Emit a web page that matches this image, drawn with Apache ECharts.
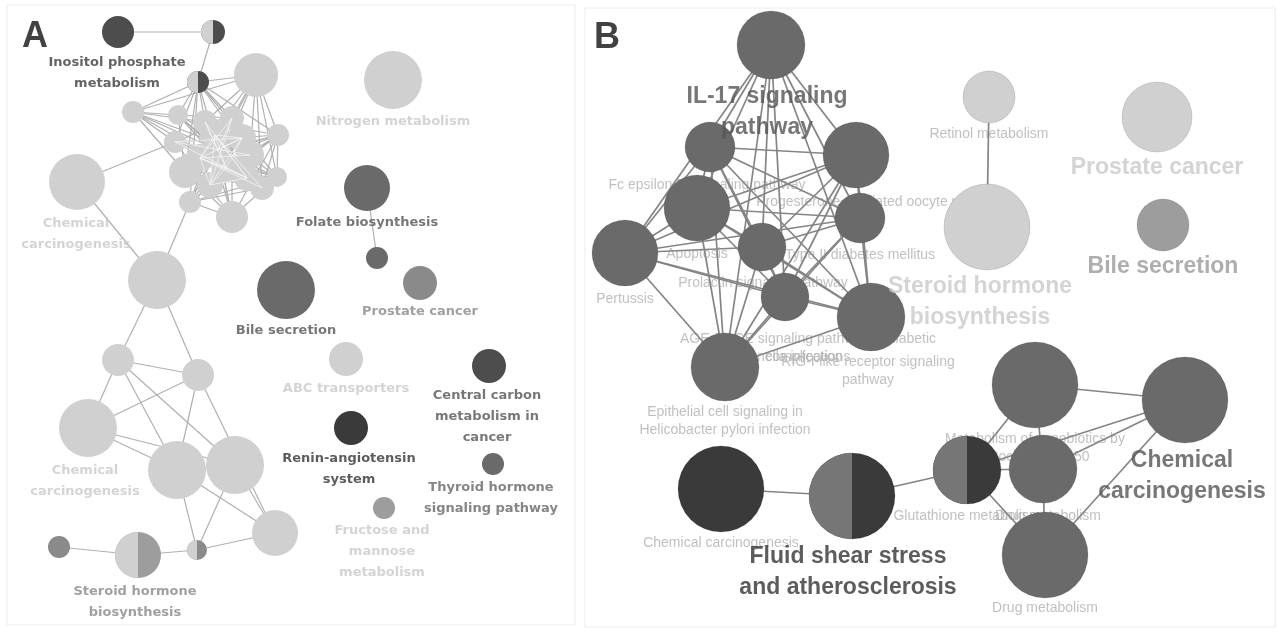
<!DOCTYPE html>
<html><head><meta charset="utf-8">
<script src="https://cdn.jsdelivr.net/npm/echarts@6/dist/echarts.min.js"></script>
<style>html,body{margin:0;padding:0;background:#fff}#c{width:1277px;height:635px}</style>
</head><body><div id="c"></div>
<script>
// ---------- DATA ----------
// node tones (categorical)
const tones = {L:'#d0d0d0', M:'#9d9d9d', G:'#8a8a8a', D:'#6a6a6a', E:'#767676', K:'#4d4d4d', X:'#3a3a3a'};
const textTones = {a:'#3c3c3c', b:'#555555', r:'#333333', g:'#666666', p:'#888888', l:'#c9c9c9', s:'#b0b0b0', k:'#111111', q:'#9a9a9a'};

// Panel A nodes: [x, y, size, toneLeft, toneRight]
const nodesA = [
  [118,32,16,'K','K'],[213,32,12,'L','K'],[198,82,11,'L','K'],[256,75,22,'L','L'],
  [133,112,11,'L','L'],[178,115,10,'L','L'],[278,135,11,'L','L'],[185,172,16,'L','L'],
  [277,177,10,'L','L'],[190,202,11,'L','L'],[232,217,16,'L','L'],[205,122,12,'L','L'],
  [232,118,12,'L','L'],[250,155,14,'L','L'],[218,150,12,'L','L'],[175,142,11,'L','L'],
  [262,188,12,'L','L'],[77,182,28,'L','L'],[157,280,29,'L','L'],[118,360,16,'L','L'],
  [198,375,16,'L','L'],[88,428,29,'L','L'],[177,470,29,'L','L'],[235,465,29,'L','L'],
  [275,533,23,'L','L'],[197,550,10,'L','G'],[138,555,23,'L','M'],[59,547,11,'G','G'],
  [393,80,29,'L','L'],[367,188,23,'D','D'],[377,258,11,'D','D'],[420,283,17,'G','G'],
  [286,290,29,'D','D'],[346,359,17,'L','L'],[489,366,17,'K','K'],[351,428,17,'X','X'],
  [493,464,11,'D','D'],[384,508,11,'M','M'],
  [215,135,15,'L','L'],[242,138,14,'L','L'],[226,168,15,'L','L'],[200,158,14,'L','L'],
  [247,178,13,'L','L'],[210,185,13,'L','L']
];
const edgesA = [
  [0,1],[1,2],[2,4],[2,3],[2,5],[2,6],[2,7],[2,11],[2,12],[2,13],[2,14],[2,15],[2,9],[2,8],
  [4,5],[4,7],[4,11],[4,15],[4,14],[4,13],[4,3],[3,6],[3,8],[3,12],[3,13],[3,14],[3,11],[3,16],[3,7],
  [5,7],[5,12],[5,13],[5,14],[5,16],[6,7],[6,9],[6,11],[6,15],[6,14],[6,16],[6,10],
  [7,8],[7,10],[7,12],[7,13],[7,16],[8,9],[8,15],[8,11],[8,14],[9,12],[9,13],[9,14],[9,16],
  [10,11],[10,15],[10,14],[10,12],[11,13],[11,16],[12,15],[12,16],[13,15],[14,16],[15,16],
  [11,12],[13,14],[9,10],[8,10],[12,13],[6,8],
  [17,15],[17,18],[18,9],[18,19],[18,20],[19,20],[19,21],[19,22],[19,23],[20,21],[20,22],
  [20,24],[21,22],[21,23],[22,23],[22,25],[23,25],[23,24],[22,24],[24,25],[25,26],[26,27],[29,30],
  [38,9],[38,10],[39,9],[39,7],[40,5],[40,6],[41,6],[41,8],[42,4],[42,5],[43,3],[43,6]
];
// edges of the dense core that show as pale lines over the node blob
const coreEdgesA = [
  [38,39],[38,40],[38,41],[38,42],[38,43],[39,40],[39,41],[39,43],[40,41],[40,42],[40,43],
  [41,42],[41,43],[42,43],[11,40],[12,41],[13,41],[14,39],[15,42],[16,41],[11,42],[12,43],
  [14,12],[15,13],[11,14],[38,16],[39,15]
];

// Panel B nodes: [x, y, size, toneLeft, toneRight]
const nodesB = [
  [771,45,34,'D','D'],[710,147,25,'D','D'],[856,155,33,'D','D'],[697,208,33,'D','D'],
  [860,218,25,'D','D'],[762,247,24,'D','D'],[625,253,33,'D','D'],[785,297,24,'D','D'],
  [871,317,34,'D','D'],[725,367,34,'D','D'],
  [989,97,26,'L','L'],[987,227,43,'L','L'],[1157,117,35,'L','L'],[1163,225,26,'M','M'],
  [1035,385,43,'D','D'],[1185,400,43,'D','D'],[967,470,34,'E','X'],[1043,469,34,'D','D'],
  [1045,555,43,'D','D'],[721,489,43,'X','X'],[852,496,43,'E','X']
];
const edgesB = [
  [0,1],[0,2],[0,3],[0,4],[0,5],[0,6],[0,7],[0,8],[0,9],
  [1,2],[1,3],[1,4],[1,5],[1,6],[1,7],[1,8],[1,9],
  [2,3],[2,4],[2,5],[2,6],[2,7],[2,8],[2,9],
  [3,4],[3,5],[3,6],[3,7],[3,8],[3,9],
  [4,5],[4,6],[4,7],[4,8],[4,9],
  [5,6],[5,7],[5,8],[5,9],
  [6,7],[6,8],[6,9],
  [7,8],[7,9],[8,9],
  [10,11],[19,20],[20,16],[16,14],[16,17],[16,18],[14,15],[14,17],[17,18],[15,17],[15,16],[15,18]
];

// Labels: [text, x, y, textTone]
const labelsA = [
  ['Inositol phosphate\nmetabolism',117,73,'a'],
  ['Nitrogen metabolism',393,122,'l'],
  ['Chemical\ncarcinogenesis',76,234,'l'],
  ['Folate biosynthesis',367,223,'b'],
  ['Prostate cancer',420,312,'p'],
  ['Bile secretion',286,331,'b'],
  ['ABC transporters',346,389,'l'],
  ['Central carbon\nmetabolism in\ncancer',487,417,'b'],
  ['Renin-angiotensin\nsystem',349,469,'r'],
  ['Chemical\ncarcinogenesis',85,481,'l'],
  ['Thyroid hormone\nsignaling pathway',491,498,'g'],
  ['Fructose and\nmannose\nmetabolism',382,552,'l'],
  ['Steroid hormone\nbiosynthesis',135,602,'p']
];
const labelsBSmall = [
  ['Fc epsilon RI signaling pathway',707,185,'s'],
  ['Progesterone-mediated oocyte maturation',887,202,'s'],
  ['Apoptosis',697,254,'s'],
  ['Type II diabetes mellitus',860,255,'s'],
  ['Prolactin signaling pathway',763,283,'s'],
  ['Pertussis',625,299,'s'],
  ['AGE-RAGE signaling pathway in diabetic\ncomplications',808,348,'s'],
  ['Salmonella infection',780,357,'s'],
  ['RIG-I-like receptor signaling\npathway',868,371,'s'],
  ['Epithelial cell signaling in\nHelicobacter pylori infection',725,421,'s'],
  ['Retinol metabolism',989,134,'s'],
  ['Chemical carcinogenesis',721,543,'s'],
  ['Metabolism of xenobiotics by\ncytochrome P450',1035,448,'s'],
  ['Glutathione metabolism',967,516,'s'],
  ['Drug metabolism',1048,516,'s'],
  ['Drug metabolism',1045,608,'s']
];
const labelsBBig = [
  ['IL-17 signaling\npathway',767,112,'b'],
  ['Steroid hormone\nbiosynthesis',980,302,'l'],
  ['Prostate cancer',1157,168,'l'],
  ['Bile secretion',1163,267,'q'],
  ['Chemical\ncarcinogenesis',1182,476,'b'],
  ['Fluid shear stress\nand atherosclerosis',848,572,'r']
];
const panelLetters = [['A',35,37],['B',607,38]];

// ---------- CHART ----------
const chart = echarts.init(document.getElementById('c'), null, {renderer:'canvas'});

function edgeData(nodes, edges){
  return edges.map(e => [nodes[e[0]][0], nodes[e[0]][1], nodes[e[1]][0], nodes[e[1]][1]]);
}
function edgeSeries(nodes, edges, color, width, z){
  return {
    type:'custom', z:z, silent:true, coordinateSystem:'cartesian2d',
    data: edgeData(nodes, edges),
    encode:{x:[0,2], y:[1,3]},
    renderItem(params, api){
      const p1 = api.coord([api.value(0), api.value(1)]);
      const p2 = api.coord([api.value(2), api.value(3)]);
      return {type:'line', shape:{x1:p1[0],y1:p1[1],x2:p2[0],y2:p2[1]},
        style:{stroke:color, lineWidth:width}};
    }
  };
}
function nodeSeries(nodes, z, strokeDarken){
  return {
    type:'custom', z:z, silent:true, coordinateSystem:'cartesian2d',
    data: nodes.map(n => [n[0], n[1], n[2]]),
    encode:{x:0, y:1},
    renderItem(params, api){
      const n = nodes[params.dataIndex];
      const c = api.coord([api.value(0), api.value(1)]);
      const r = api.size([api.value(2), 0])[0];
      const left = tones[n[3]], right = tones[n[4]];
      const children = [{type:'circle', shape:{cx:c[0], cy:c[1], r:r},
        style:{fill:right, stroke: strokeDarken ? 'rgba(0,0,0,0.12)' : null, lineWidth:1}}];
      if (left !== right) {
        children.push({type:'sector', shape:{cx:c[0], cy:c[1], r0:0, r:r,
          startAngle:Math.PI/2, endAngle:Math.PI*3/2, clockwise:true}, style:{fill:left}});
      }
      return {type:'group', children};
    }
  };
}
function labelSeries(labels, z, font){
  return {
    type:'scatter', z:z, silent:true, symbol:'circle', symbolSize:1,
    itemStyle:{color:'rgba(0,0,0,0)'},
    data: labels.map(l => ({value:[l[1], l[2]], name:l[0],
      label:{color: textTones[l[3]] || '#111'}})),
    label: Object.assign({show:true, position:'inside', formatter:'{b}', align:'center', verticalAlign:'middle'}, font)
  };
}

chart.setOption({
  animation:false,
  backgroundColor:'#ffffff',
  grid:{left:0, right:0, top:0, bottom:0},
  xAxis:{type:'value', min:0, max:1277, show:false},
  yAxis:{type:'value', min:0, max:635, inverse:true, show:false},
  graphic:[
    {type:'rect', shape:{x:7, y:5, width:568, height:620}, style:{fill:null, stroke:'#ececec', lineWidth:1}, silent:true},
    {type:'rect', shape:{x:585, y:8, width:690, height:619}, style:{fill:null, stroke:'#ececec', lineWidth:1}, silent:true}
  ],
  series:[
    labelSeries(labelsBSmall, 1, {fontFamily:'Liberation Sans', fontSize:14, lineHeight:18}),
    edgeSeries(nodesA, edgesA, '#b0b0b0', 1.2, 2),
    edgeSeries(nodesB, edgesB, '#858585', 1.7, 2),
    nodeSeries(nodesA, 3, false),
    nodeSeries(nodesB, 3, true),
    edgeSeries(nodesA, coreEdgesA, 'rgba(245,245,245,0.75)', 1, 3.5),
    labelSeries(labelsA, 4, {fontFamily:'DejaVu Sans', fontWeight:'bold', fontSize:13, lineHeight:21}),
    labelSeries(labelsBBig, 5, {fontFamily:'Liberation Sans', fontWeight:'bold', fontSize:23, lineHeight:31}),
    labelSeries(panelLetters.map(p => [p[0], p[1], p[2], 'k']), 5, {fontFamily:'Liberation Sans', fontWeight:'bold', fontSize:36})
  ]
});
</script></body></html>
